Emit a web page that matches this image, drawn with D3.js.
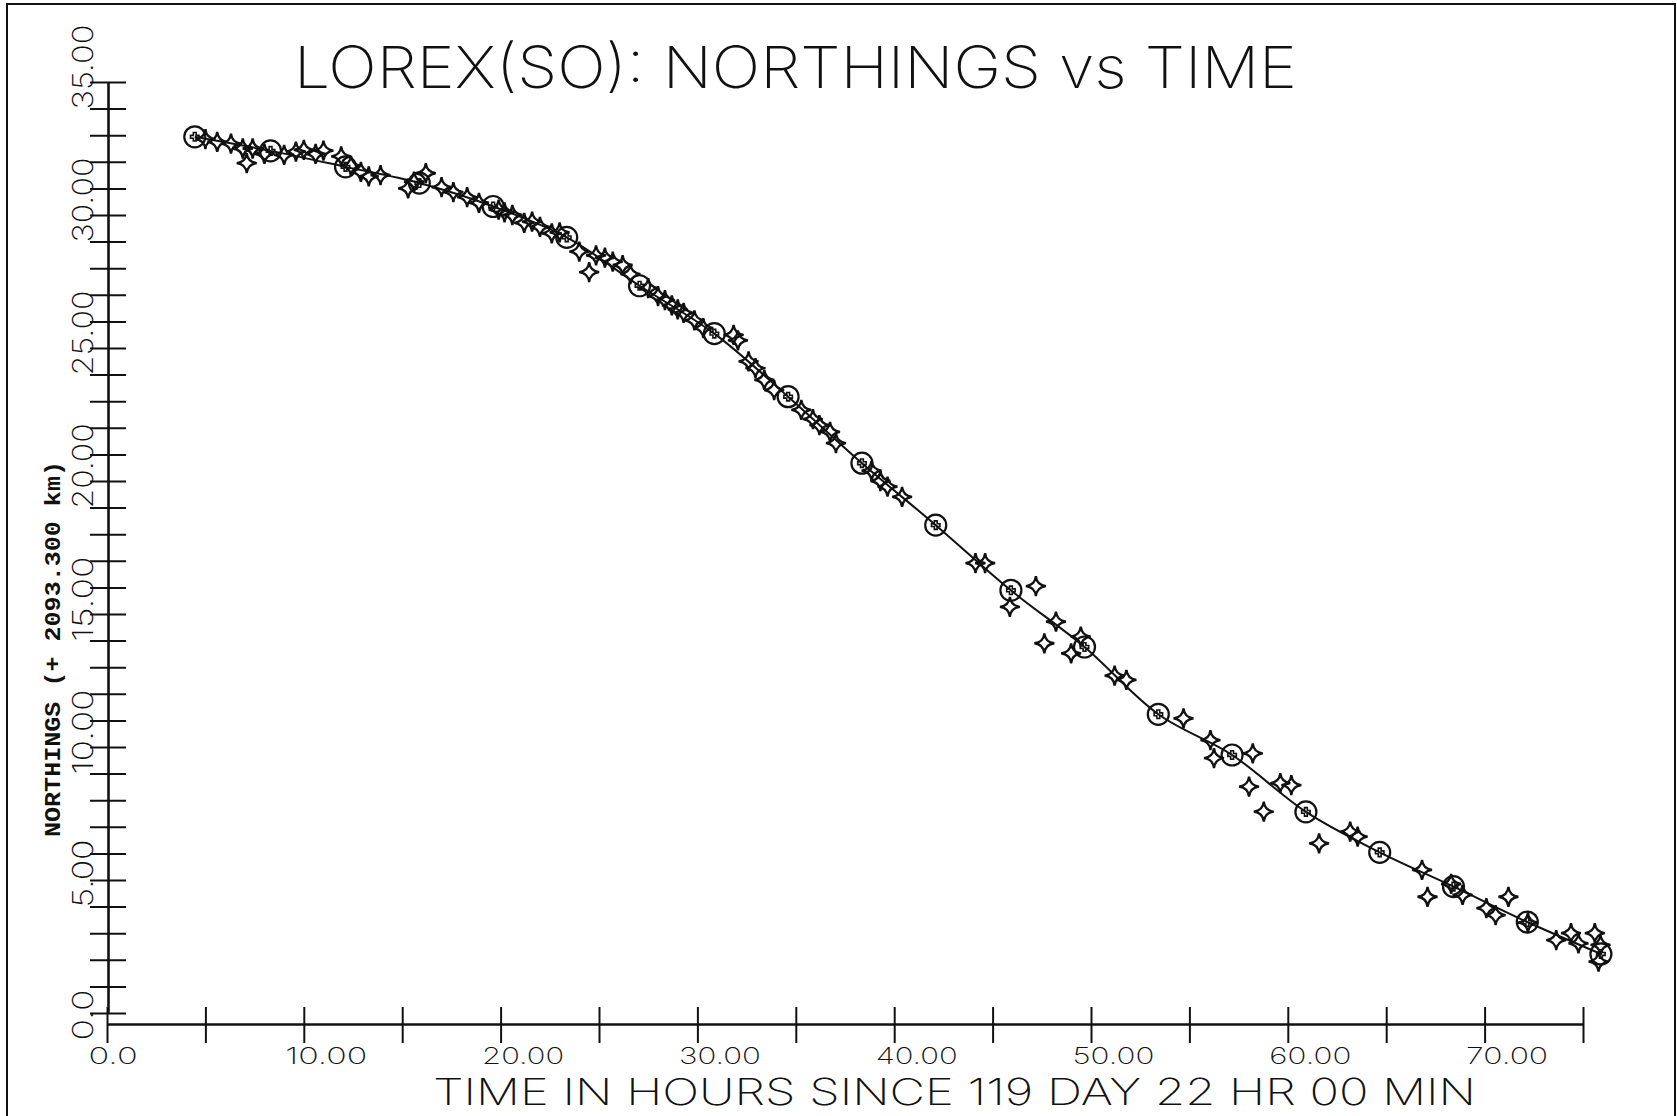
<!DOCTYPE html>
<html>
<head>
<meta charset="utf-8">
<script src="https://cdn.jsdelivr.net/npm/d3@7"></script>
<style>
  html, body { margin: 0; padding: 0; background: #fff; }
  svg { display: block; }
  .plotter { font-family: Inter, "DejaVu Sans", sans-serif; font-weight: 200; fill: #111; }
  .mono { font-family: "Liberation Mono", "DejaVu Sans Mono", monospace; font-weight: bold; fill: #111; }
</style>
</head>
<body>
<svg id="chart" width="1677" height="1116"></svg>
<script>
// Hourly fixes along the smoothed track (hours since 119 d 22 h 00 m, northings km above 2093.300)
const fixHours     = [4.46, 8.31, 12.12, 15.87, 19.62, 23.36, 27.06, 30.86, 34.61, 38.36,
                      42.11, 45.93, 49.67, 53.42, 57.17, 60.92, 64.67, 68.42, 72.17, 75.91];
const fixNorthings = [32.94, 32.41, 31.81, 31.20, 30.32, 29.16, 27.34, 25.54, 23.17, 20.67,
                      18.34, 15.89, 13.76, 11.23, 9.70, 7.56, 6.04, 4.75, 3.42, 2.22];

// Individual position observations
const obsHours = [5.0, 5.6, 6.3, 6.9, 7.1, 7.4, 8.0,
                  9.0, 9.6, 10.0, 10.6, 11.0, 11.9, 12.4,
                  12.9, 13.3, 13.9, 15.3, 15.6, 16.2, 17.0, 17.6, 18.3, 18.9, 19.9,
                  20.2, 20.6, 21.2, 21.6, 22.0, 22.6, 23.0, 24.0, 24.5, 24.85, 25.3, 25.7, 26.2, 26.6,
                  27.5, 28.0, 28.35, 28.7, 29.0, 29.3, 29.85, 30.3, 31.84, 32.06, 32.6, 32.95, 33.4, 33.9,
                  35.28, 35.87, 36.2, 36.74, 37.04, 38.85, 39.3, 39.66, 40.4,
                  44.13, 44.62, 45.88, 47.2, 47.63, 48.22, 48.99, 49.48, 51.2, 51.8,
                  54.7, 56.07, 56.25, 58.03, 58.22, 58.78, 59.62, 60.18, 61.59,
                  63.17, 63.55, 66.82, 67.10, 68.3, 68.88, 70.09, 70.56, 71.21, 72.2,
                  73.64, 74.39, 74.77, 75.6, 75.89, 75.79];
const obsNorthings = [32.85, 32.75, 32.68, 32.5, 31.95, 32.5, 32.3,
                      32.26, 32.38, 32.45, 32.3, 32.42, 32.2, 31.85,
                      31.62, 31.45, 31.5, 31.0, 31.25, 31.57, 31.05, 30.86, 30.67, 30.46, 30.2,
                      30.1, 30.0, 29.7, 29.75, 29.55, 29.31, 29.35, 28.62, 27.85, 28.48, 28.4, 28.25, 28.12, 27.78,
                      27.25, 26.95, 26.8, 26.6, 26.45, 26.32, 26.04, 25.75, 25.49, 25.29, 24.5, 24.24, 23.8, 23.42,
                      22.67, 22.33, 22.1, 21.85, 21.42, 20.39, 20.0, 19.79, 19.4,
                      16.91, 16.91, 15.27, 16.05, 13.9, 14.71, 13.52, 14.15, 12.68, 12.52,
                      11.08, 10.26, 9.58, 8.51, 9.76, 7.57, 8.64, 8.57, 6.38,
                      6.82, 6.63, 5.38, 4.37, 4.85, 4.44, 3.94, 3.68, 4.37, 3.4,
                      2.74, 3.0, 2.62, 3.0, 2.56, 1.93];

// Axis ticks and their labels
const xTickValues = [0, 5, 10, 15, 20, 25, 30, 35, 40, 45, 50, 55, 60, 65, 70, 75];
const xLabelValues = [0, 10, 20, 30, 40, 50, 60, 70];
const xLabelTexts  = ["0.0", "10.00", "20.00", "30.00", "40.00", "50.00", "60.00", "70.00"];
const yTickValues = d3.range(0, 36);
const yLabelValues = [0, 5, 10, 15, 20, 25, 30, 35];
const yLabelTexts  = ["0.0", "5.00", "10.00", "15.00", "20.00", "25.00", "30.00", "35.00"];

const titleText  = "LOREX(SO): NORTHINGS vs TIME";
const xTitleText = "TIME IN HOURS SINCE 119 DAY 22 HR 00 MIN";
const yTitleText = "NORTHINGS (+ 2093.300 km)";

const svg = d3.select("#chart");
const ink = "#111";

const x = d3.scaleLinear().domain([0, 75]).range([107, 1583]);
const y = d3.scaleLinear().domain([0, 35]).range([1013, 82]);
const xAxisY = 1024;
const yAxisX = 108;

// Sheet border
svg.append("path")
  .attr("d", "M7,1116 L7,4 L1675,4 L1675,1116")
  .attr("fill", "none").attr("stroke", ink).attr("stroke-width", 2);

// Title
svg.append("text").attr("class", "plotter")
  .attr("x", 294).attr("y", 88)
  .attr("font-size", 58)
  .attr("textLength", 1003).attr("lengthAdjust", "spacingAndGlyphs")
  .text(titleText);

// X axis, ticks crossing the line
const xAxis = d3.axisBottom(x).tickValues(xTickValues).tickSizeOuter(0).tickFormat("");
const gx = svg.append("g").attr("transform", `translate(0,${xAxisY})`).call(xAxis);
gx.select(".domain").attr("stroke", ink).attr("stroke-width", 2.6);
gx.selectAll(".tick line").attr("y1", -17).attr("y2", 19)
  .attr("stroke", ink).attr("stroke-width", 2);
gx.selectAll(".tick text").remove();
gx.selectAll(".tick").filter(d => xLabelValues.includes(d))
  .append("text").attr("class", "plotter")
  .attr("x", -19).attr("y", 40)
  .attr("font-size", 23).attr("font-weight", 300)
  .attr("text-anchor", "start")
  .attr("textLength", d => xLabelTexts[xLabelValues.indexOf(d)].length * 16.4)
  .attr("lengthAdjust", "spacingAndGlyphs")
  .text(d => xLabelTexts[xLabelValues.indexOf(d)]);

// Y axis, ticks crossing the line
const yAxis = d3.axisLeft(y).tickValues(yTickValues).tickSizeOuter(0).tickFormat("");
const gy = svg.append("g").attr("transform", `translate(${yAxisX},0)`).call(yAxis);
gy.select(".domain").attr("stroke", ink).attr("stroke-width", 2.6);
gy.selectAll(".tick line").attr("x1", -18).attr("x2", 18)
  .attr("stroke", ink).attr("stroke-width", 2);
gy.selectAll(".tick text").remove();
gy.selectAll(".tick").filter(d => yLabelValues.includes(d))
  .append("text").attr("class", "plotter")
  .attr("transform", "translate(-15,27) rotate(-90)")
  .attr("font-size", 29).attr("font-weight", 300)
  .attr("text-anchor", "start")
  .attr("textLength", d => yLabelTexts[yLabelValues.indexOf(d)].length * 17)
  .attr("lengthAdjust", "spacingAndGlyphs")
  .text(d => yLabelTexts[yLabelValues.indexOf(d)]);

// Axis titles
svg.append("text").attr("class", "plotter")
  .attr("x", 433).attr("y", 1105)
  .attr("font-size", 37)
  .attr("textLength", 1043).attr("lengthAdjust", "spacingAndGlyphs")
  .text(xTitleText);

svg.append("text").attr("class", "mono")
  .attr("transform", "translate(60,837) rotate(-90)")
  .attr("font-size", 22)
  .attr("textLength", 376).attr("lengthAdjust", "spacingAndGlyphs")
  .text(yTitleText);

// Smoothed track through the hourly fixes
const fixes = fixHours.map((h, i) => ({ h, n: fixNorthings[i] }));
const track = d3.line().x(d => x(d.h)).y(d => y(d.n)).curve(d3.curveCatmullRom.alpha(0.5));
svg.append("path").datum(fixes)
  .attr("d", track)
  .attr("fill", "none").attr("stroke", ink).attr("stroke-width", 2);

// Four-pointed concave star symbol for the observations
const concaveStar = {
  draw(context, size) {
    const R = Math.sqrt(size) / 2, c = R * 0.1;
    context.moveTo(0, -R);
    context.quadraticCurveTo(c, -c, R, 0);
    context.quadraticCurveTo(c, c, 0, R);
    context.quadraticCurveTo(-c, c, -R, 0);
    context.quadraticCurveTo(-c, -c, 0, -R);
    context.closePath();
  }
};
const obs = obsHours.map((h, i) => ({ h, n: obsNorthings[i] }));
svg.append("g").selectAll("path").data(obs).join("path")
  .attr("transform", d => `translate(${x(d.h)},${y(d.n)})`)
  .attr("d", d3.symbol().type(concaveStar).size(400))
  .attr("fill", "none").attr("stroke", ink).attr("stroke-width", 2.3);

// Circled fixes with a small cross at the centre
const fixG = svg.append("g").selectAll("g").data(fixes).join("g")
  .attr("transform", d => `translate(${x(d.h)},${y(d.n)})`);
fixG.append("circle").attr("r", 10.5)
  .attr("fill", "none").attr("stroke", ink).attr("stroke-width", 2.2);
fixG.append("path").attr("d", d3.symbol().type(d3.symbolCross).size(40))
  .attr("fill", "none").attr("stroke", ink).attr("stroke-width", 1.6);
</script>
</body>
</html>
